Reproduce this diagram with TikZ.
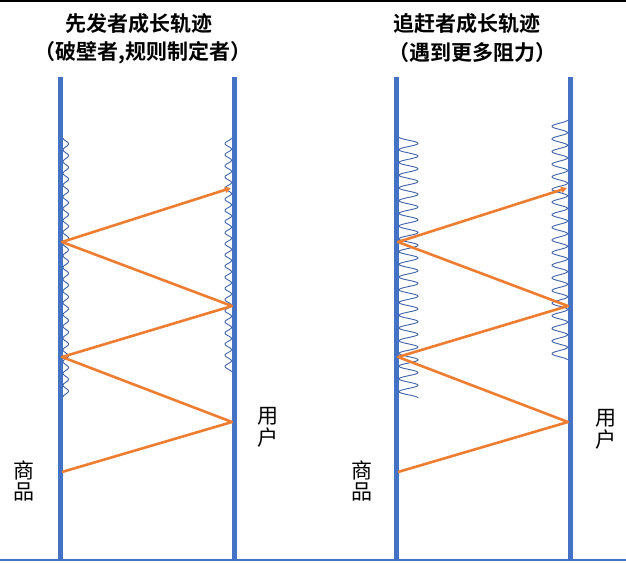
\documentclass[tikz,border=0pt]{standalone}
\usepackage{fontspec}
\newfontfamily\cjk{Noto Sans CJK SC}[BoldFont={Noto Sans CJK SC Bold}]
\usetikzlibrary{arrows.meta}
\definecolor{offblue}{HTML}{4472C4}
\definecolor{offorange}{HTML}{ED7D31}
\definecolor{wavecol}{HTML}{3F62A8}
\tikzset{
  axisline/.style={draw=offblue, line width=5pt},
  baseline/.style={draw=offblue, line width=2.5pt},
  zig/.style={draw=offorange, line width=2.6pt, line join=round},
  wave/.style={draw=wavecol, line width=0.9pt},
  title/.style={inner sep=0pt, font=\cjk\bfseries\fontsize{21}{24}\selectfont},
  lbl/.style={inner sep=0pt, align=center, font=\cjk\fontsize{21}{24}\selectfont},
}
\newcommand{\wavy}[5]{% x0, amplitude(signed), y0, y1, cycles
  \draw[wave] plot[domain=0:1, samples=500, smooth] ({#1 + (#2)*(1-cos(360*#5*\x))/2}, {#3 + (#4-#3)*\x});
}
\begin{document}
\begin{tikzpicture}[x=1pt, y=-1pt]
\useasboundingbox (0,0) rectangle (626,562);
\fill[white] (0,0) rectangle (626,562);
% top border
\draw[black, line width=1.5pt] (0,0.75) -- (626,0.75);

% titles
\node[title] (t1) at (139,24) {先发者成长轨迹};
\node[title] (t2) at (143,53) {（破壁者,规则制定者）};
\node[title] (t3) at (467,24) {追赶者成长轨迹};
\node[title] (t4) at (472,53) {（遇到更多阻力）};

% vertical axes
\coordinate (L1t) at (60,77);   \coordinate (L1b) at (60,559);
\coordinate (L2t) at (234,77);  \coordinate (L2b) at (234,559);
\coordinate (R1t) at (396.5,77); \coordinate (R1b) at (396.5,559);
\coordinate (R2t) at (570,77);  \coordinate (R2b) at (570,559);
\draw[axisline] (L1t) -- (L1b);
\draw[axisline] (L2t) -- (L2b);
\draw[axisline] (R1t) -- (R1b);
\draw[axisline] (R2t) -- (R2b);

% bottom baseline
\coordinate (B0) at (0,560);
\coordinate (B1) at (626,560);
\draw[baseline] (B0) -- (B1);

% waves
\wavy{63}{5.5}{138}{397}{22}
\wavy{231.5}{-6.5}{138}{372}{21}
\wavy{399}{19}{137}{398}{20.5}
\wavy{567.5}{-15.5}{120}{360}{19}

% zigzag left
\coordinate (a1) at (62,472);
\coordinate (a2) at (232,422);
\coordinate (a3) at (62,357);
\coordinate (a4) at (232,306);
\coordinate (a5) at (62,242);
\coordinate (a6) at (231,188);
\draw[zig, -{Triangle[length=6pt,width=6pt]}] (a1) -- (a2) -- (a3) -- (a4) -- (a5) -- (a6);

% zigzag right
\coordinate (b1) at (398,472);
\coordinate (b2) at (568,422);
\coordinate (b3) at (398,357);
\coordinate (b4) at (568,306);
\coordinate (b5) at (398,242);
\coordinate (b6) at (567,188);
\draw[zig, -{Triangle[length=6pt,width=6pt]}] (b1) -- (b2) -- (b3) -- (b4) -- (b5) -- (b6);

% labels
\node[lbl] (u1) at (268,427) {用\\[-2pt]户};
\node[lbl] (u2) at (606,429) {用\\[-2pt]户};
\node[lbl] (s1) at (24,481) {商\\[-3pt]品};
\node[lbl] (s2) at (362,481) {商\\[-3pt]品};
\end{tikzpicture}
\end{document}
